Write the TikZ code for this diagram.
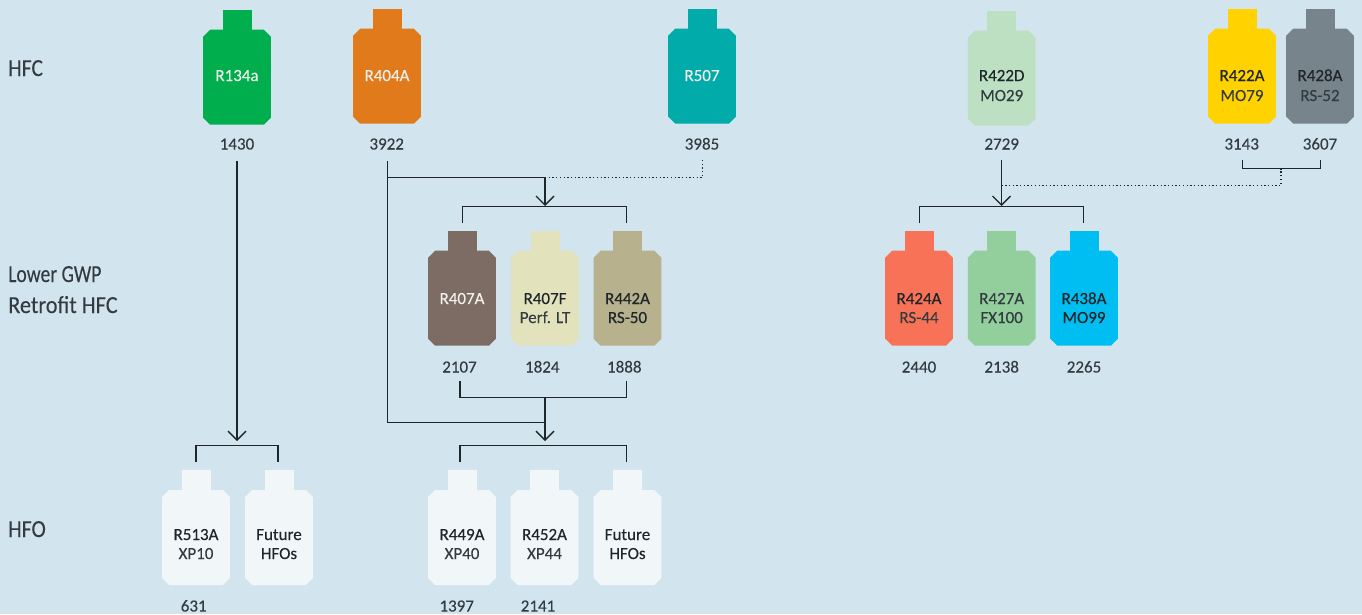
\documentclass[tikz,border=0pt]{standalone}
\usepackage{graphicx}
\usepackage{fontspec}
\setmainfont{Carlito}
\newfontfamily\namefont[FakeBold=0.35]{Carlito}
\newfontfamily\softfont[FakeBold=0.12]{Carlito}
\usetikzlibrary{arrows.meta}
\definecolor{bgc}{HTML}{D2E4EE}
\definecolor{cgreen}{HTML}{00AE4D}
\definecolor{corange}{HTML}{E17A1B}
\definecolor{cteal}{HTML}{00ABA9}
\definecolor{cmint}{HTML}{BDE0C3}
\definecolor{cyellow}{HTML}{FFD200}
\definecolor{cslate}{HTML}{78848C}
\definecolor{cbrown}{HTML}{7C6C64}
\definecolor{ccream}{HTML}{E2E2BC}
\definecolor{ckhaki}{HTML}{B7B18D}
\definecolor{ccoral}{HTML}{F77256}
\definecolor{cleaf}{HTML}{92CF9D}
\definecolor{csky}{HTML}{00BEF2}
\definecolor{cpale}{HTML}{F1F6F9}
\definecolor{cink}{HTML}{1E2629}
\definecolor{csoft}{HTML}{323B3F}
\definecolor{cwhite}{HTML}{F4F0EC}
\tikzset{
  bodyshape/.style={rectangle,minimum width=67.6pt,minimum height=95pt,inner sep=0pt,outer sep=0pt},
  neckshape/.style={rectangle,minimum width=29pt,minimum height=20.5pt,inner sep=0pt,outer sep=0pt,anchor=north},
  txt/.style={anchor=base,inner sep=0pt,font=\fontsize{17}{20}\selectfont\softfont},
  nameL/.style={txt,text=cink,font=\fontsize{17}{20}\selectfont\namefont},
  nameW/.style={txt,text=cwhite},
  subL/.style={txt,text=csoft},
  num/.style={txt,text=csoft},
  head/.style={anchor=base west,inner sep=0pt,text=csoft,font=\fontsize{24.5}{28}\selectfont\softfont},
  conn/.style={draw=cink,line width=1.4pt},
  dots/.style={draw=cink,line width=1.3pt,dash pattern=on 1.3pt off 2.4pt},
  tip/.style={-{Straight Barb[length=9pt,width=18pt,line width=1.4pt]}},
}
\newcommand{\bottle}[4]{%
  \node[neckshape,fill=#4] (#1-n) at (#2,#3) {};
  \node[bodyshape] (#1) at (#2,#3+67.2) {};
  \fill[#4] ([xshift=7pt]#1.north west) -- ([xshift=-7pt]#1.north east)
    -- ([yshift=-7pt]#1.north east) -- ([yshift=7pt]#1.south east)
    -- ([xshift=-7pt]#1.south east) -- ([xshift=7pt]#1.south west)
    -- ([yshift=7pt]#1.south west) -- ([yshift=-7pt]#1.north west) -- cycle;
}
\begin{document}
\begin{tikzpicture}[x=1pt,y=-1pt]
\fill[bgc] (0,0) rectangle (1362,614);
\useasboundingbox (0,0) rectangle (1362,614);

\node[head] (hfc) at (8,76) {\scalebox{.885}[1]{HFC}};
\node[head] (lg1) at (8,282) {\scalebox{.80}[1]{Lower GWP}};
\node[head] (lg2) at (8,313) {\scalebox{.91}[1]{Retrofit HFC}};
\node[head] (hfo) at (8,537) {\scalebox{.885}[1]{HFO}};

\bottle{a}{237}{10}{cgreen}
\bottle{b}{387}{9}{corange}
\bottle{c}{702}{9}{cteal}
\bottle{d}{1001.7}{11}{cmint}
\bottle{e}{1242}{9}{cyellow}
\bottle{f}{1320}{9}{cslate}
\bottle{g}{462}{231}{cbrown}
\bottle{h}{545}{231}{ccream}
\bottle{i}{627.5}{231}{ckhaki}
\bottle{j}{919}{231}{ccoral}
\bottle{k}{1001.7}{231}{cleaf}
\bottle{l}{1084}{231}{csky}
\bottle{m}{196}{470.3}{cpale}
\bottle{o}{279}{470.3}{cpale}
\bottle{p}{462}{470.3}{cpale}
\bottle{q}{544.5}{470.3}{cpale}
\bottle{r}{627.5}{470.3}{cpale}

\node[nameW] (a1) at (237,81) {R134a};
\node[nameW] (b1) at (387,81) {R404A};
\node[nameW] (c1) at (702,81) {R507};
\node[nameL] (d1) at (1001.7,81) {R422D};
\node[subL]  (d2) at (1001.7,101) {MO29};
\node[nameL] (e1) at (1242,81) {R422A};
\node[subL]  (e2) at (1242,101) {MO79};
\node[nameL] (f1) at (1320,81) {R428A};
\node[subL]  (f2) at (1320,101) {RS-52};
\node[nameW] (g1) at (462,304) {R407A};
\node[nameL] (h1) at (545,304) {R407F};
\node[subL]  (h2) at (545,323) {Perf. LT};
\node[nameL] (i1) at (627.5,304) {R442A};
\node[nameL] (i2) at (627.5,323) {RS-50};
\node[nameL] (j1) at (919,304) {R424A};
\node[subL]  (j2) at (919,323) {RS-44};
\node[subL]  (k1) at (1001.7,304) {R427A};
\node[subL]  (k2) at (1001.7,323) {FX100};
\node[nameL] (l1) at (1084,304) {R438A};
\node[nameL] (l2) at (1084,323) {MO99};
\node[nameL] (m1) at (196,540) {R513A};
\node[subL]  (m2) at (196,559) {XP10};
\node[nameL] (o1) at (279,540) {Future};
\node[nameL] (o2) at (279,559) {HFOs};
\node[nameL] (p1) at (462,540) {R449A};
\node[subL]  (p2) at (462,559) {XP40};
\node[nameL] (q1) at (544.5,540) {R452A};
\node[subL]  (q2) at (544.5,559) {XP44};
\node[nameL] (r1) at (627.5,540) {Future};
\node[nameL] (r2) at (627.5,559) {HFOs};

\node[num] (na) at (237,149.5) {1430};
\node[num] (nb) at (386.7,149.5) {3922};
\node[num] (nc) at (702,149.5) {3985};
\node[num] (nd) at (1001.7,149.5) {2729};
\node[num] (ne) at (1241.7,149.5) {3143};
\node[num] (nf) at (1320,149.5) {3607};
\node[num] (ng) at (459.5,372.5) {2107};
\node[num] (nh) at (542.3,372.5) {1824};
\node[num] (ni) at (624.3,372.5) {1888};
\node[num] (nj) at (919,372.5) {2440};
\node[num] (nk) at (1001.7,372.5) {2138};
\node[num] (nl) at (1084,372.5) {2265};
\node[num] (nm) at (193.7,611.5) {631};
\node[num] (np) at (456.7,611.5) {1397};
\node[num] (nq) at (538,611.5) {2141};

% named junctions and free ends
\coordinate (sa) at (237,161);
\coordinate (ta) at (237,441);
\coordinate (sb) at (387.5,161);
\coordinate (bm) at (387.5,422.5);
\coordinate (jb) at (387.5,177.5);
\coordinate (jm) at (545,177.5);
\coordinate (tm) at (545,206);
\coordinate (jl) at (545,422.5);
\coordinate (tl) at (545,441);
\coordinate (sc) at (702.5,160);
\coordinate (cc) at (702.5,177.5);
% brackets
\coordinate (b1l) at (462.5,223); \coordinate (b1m) at (462.5,206.5);
\coordinate (b1r) at (626.5,223); \coordinate (b1n) at (626.5,206.5);
\coordinate (b2l) at (460,381);   \coordinate (b2m) at (460,397.5);
\coordinate (b2r) at (626.5,381); \coordinate (b2n) at (626.5,397.5);
\coordinate (b2c) at (545,397.5);
\coordinate (b3l) at (460,461.7); \coordinate (b3m) at (460,445.5);
\coordinate (b3r) at (626.5,461.7); \coordinate (b3n) at (626.5,445.5);
\coordinate (b4l) at (196,461.7); \coordinate (b4m) at (196,445.5);
\coordinate (b4r) at (278,461.7); \coordinate (b4n) at (278,445.5);
\coordinate (b5l) at (919.5,223); \coordinate (b5m) at (919.5,206.5);
\coordinate (b5r) at (1083.5,223); \coordinate (b5n) at (1083.5,206.5);
\coordinate (sd) at (1001.5,160);
\coordinate (td) at (1001.5,206);
\coordinate (jd) at (1001.5,185.5);
\coordinate (b6l) at (1242.5,160); \coordinate (b6m) at (1242.5,168.5);
\coordinate (b6r) at (1320.5,160); \coordinate (b6n) at (1320.5,168.5);
\coordinate (b6c) at (1281,168.5);
\coordinate (b6d) at (1281,185.5);

\draw[dots] (jm) -- (cc) -- (sc);
\draw[dots] (jd) -- (b6d) -- (b6c);
\draw[conn,tip] (sa) -- (ta);
\draw[conn] (sb) -- (bm) -- (jl);
\draw[conn] (jb) -- (jm);
\draw[conn,tip] (jm) -- (tm);
\draw[conn] (b1l) -- (b1m) -- (b1n) -- (b1r);
\draw[conn] (b2l) -- (b2m) -- (b2n) -- (b2r);
\draw[conn,tip] (b2c) -- (tl);
\draw[conn] (b3l) -- (b3m) -- (b3n) -- (b3r);
\draw[conn] (b4l) -- (b4m) -- (b4n) -- (b4r);
\draw[conn,tip] (sd) -- (td);
\draw[conn] (b5l) -- (b5m) -- (b5n) -- (b5r);
\draw[conn] (b6l) -- (b6m) -- (b6n) -- (b6r);
\end{tikzpicture}
\end{document}
